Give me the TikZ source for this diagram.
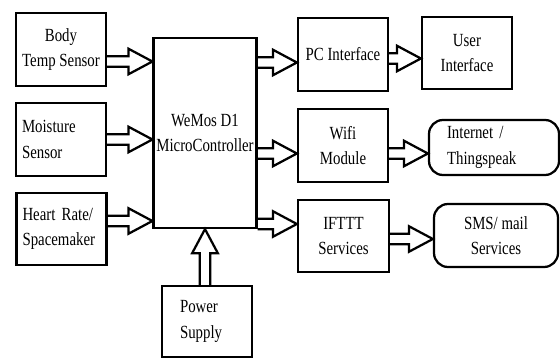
\documentclass[tikz,border=0pt]{standalone}
\usepackage{fontspec}
\setmainfont{Liberation Serif}[FakeStretch=0.8]
\usepackage{tikz}
\usetikzlibrary{calc}

\tikzset{
  blk/.style={draw, line width=1.6pt, minimum width=2.25cm, minimum height=1.825cm,
    inner sep=2pt, align=center, font=\fontsize{13.2}{18}\selectfont},
  rblk/.style={blk, rounded corners=0.35cm},
  fatarrow/.style={draw, line width=1.6pt, line join=miter, to path={
    let \p1=(\tikztostart), \p2=(\tikztotarget),
        \n1={atan2(\y2-\y1,\x2-\x1)} in
    ($(\p1)+(\n1+90:1.3mm)$) -- ($(\p2)+(\n1+180:6mm)+(\n1+90:1.3mm)$)
    -- ($(\p2)+(\n1+180:6mm)+(\n1+90:3.2mm)$) -- (\p2)
    -- ($(\p2)+(\n1+180:6mm)+(\n1-90:3.2mm)$)
    -- ($(\p2)+(\n1+180:6mm)+(\n1-90:1.3mm)$)
    -- ($(\p1)+(\n1-90:1.3mm)$)}}
}

\begin{document}
\begin{tikzpicture}
    \useasboundingbox (0,0) rectangle (14,-8.975);

    % sensors
    \node[blk] (body) at (1.525,-1.2375) {Body\\Temp Sensor};
    \node[blk, align=left, text width=1.95cm] (moist) at (1.525,-3.4875) {Moisture\\Sensor};
    \node[blk, align=left, text width=1.95cm, minimum height=1.8cm] (heart) at (1.5375,-5.725) {Heart Rate/\\Spacemaker};

    % controller and supply
    \node[blk, minimum width=2.55cm, minimum height=4.75cm] (mcu) at (5.125,-3.325) {WeMos D1\\MicroController};
    \node[blk, align=left, text width=1.35cm, minimum height=1.775cm] (power) at (5.175,-8.0375) {Power\\Supply};

    % outputs
    \node[blk] (pc) at (8.575,-1.3625) {PC Interface};
    \node[blk, minimum height=1.8cm] (user) at (11.675,-1.325) {User\\Interface};
    \node[blk] (wifi) at (8.575,-3.6375) {Wifi\\Module};
    \node[rblk, align=left, text width=2.35cm, minimum width=3.25cm, minimum height=1.375cm] (inet) at (12.35,-3.6875) {Internet /\\Thingspeak};
    \node[blk, minimum width=2.275cm, minimum height=1.8cm] (ifttt) at (8.5875,-5.9) {IFTTT\\Services};
    \node[rblk, minimum width=3.1cm, minimum height=1.575cm] (sms) at (12.4,-5.8875) {SMS/ mail\\Services};

    % arrows into controller
    \draw[fatarrow] ($(body.east)+(0,-0.3)$) to ($(body.east -| mcu.west)+(0,-0.3)$);
    \draw[fatarrow] (moist.east) to (moist.east -| mcu.west);
    \draw[fatarrow] ($(heart.east)+(0,0.2)$) to ($(heart.east -| mcu.west)+(0,0.2)$);
    \draw[fatarrow] (power.north -| mcu.south) to (mcu.south);

    % arrows out of controller
    \draw[fatarrow] ($(pc.west -| mcu.east)+(0,-0.2)$) to ($(pc.west)+(0,-0.2)$);
    \draw[fatarrow] ($(wifi.west -| mcu.east)+(0,-0.2)$) to ($(wifi.west)+(0,-0.2)$);
    \draw[fatarrow] ($(ifttt.west -| mcu.east)+(0,0.3)$) to ($(ifttt.west)+(0,0.3)$);

    % second stage
    \draw[fatarrow] ($(pc.east)+(0,-0.1)$) to ($(pc.east -| user.west)+(0,-0.1)$);
    \draw[fatarrow] ($(wifi.east)+(0,-0.2)$) to ($(wifi.east -| inet.west)+(0,-0.2)$);
    \draw[fatarrow] ($(ifttt.east)+(0,-0.075)$) to ($(ifttt.east -| sms.west)+(0,-0.075)$);
\end{tikzpicture}
\end{document}
